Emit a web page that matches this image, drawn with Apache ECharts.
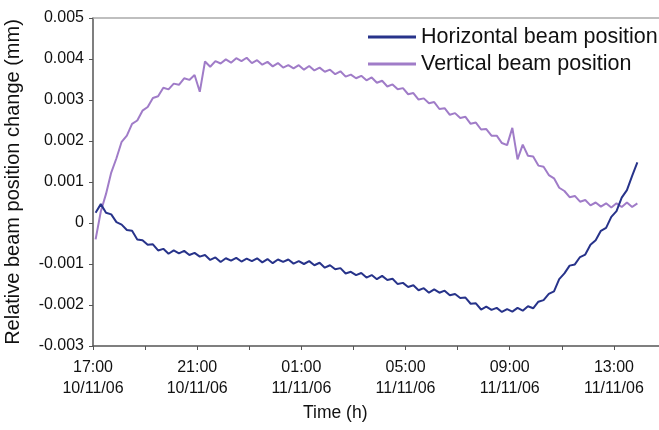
<!DOCTYPE html>
<html>
<head>
<meta charset="utf-8">
<script src="https://cdn.jsdelivr.net/npm/echarts@6/dist/echarts.min.js"></script>
<style>
html,body{margin:0;padding:0;background:#fff;}
#chart{width:659px;height:430px;}
</style>
</head>
<body>
<div id="chart"></div>
<script>
// Time axis: hours after 17:00 on 10/11/06; samples every 0.2 h starting at 0.1 h
var startHour = 0.1;
var stepHours = 0.2;
var xTickLabels = ['17:00\n10/11/06','21:00\n10/11/06','01:00\n11/11/06','05:00\n11/11/06','09:00\n11/11/06','13:00\n11/11/06'];
var yTickLabels = ['-0.003','-0.002','-0.001','0','0.001','0.002','0.003','0.004','0.005'];
var seriesNames = ['Horizontal beam position','Vertical beam position'];
var xAxisTitle = 'Time (h)';
var yAxisTitle = 'Relative beam position change (mm)';

var horizontal = [
 0.00025, 0.00046, 0.00025, 0.00021, 0.00002,-0.00004,-0.00017,-0.00019,-0.00040,-0.00042,
-0.00053,-0.00052,-0.00067,-0.00063,-0.00075,-0.00067,-0.00074,-0.00068,-0.00078,-0.00073,
-0.00082,-0.00078,-0.00090,-0.00084,-0.00095,-0.00086,-0.00092,-0.00085,-0.00094,-0.00087,
-0.00093,-0.00086,-0.00096,-0.00088,-0.00098,-0.00089,-0.00095,-0.00089,-0.00099,-0.00093,
-0.00100,-0.00093,-0.00103,-0.00097,-0.00109,-0.00103,-0.00113,-0.00110,-0.00123,-0.00119,
-0.00127,-0.00122,-0.00133,-0.00127,-0.00137,-0.00129,-0.00139,-0.00136,-0.00149,-0.00146,
-0.00156,-0.00152,-0.00164,-0.00159,-0.00170,-0.00162,-0.00170,-0.00165,-0.00176,-0.00173,
-0.00183,-0.00182,-0.00197,-0.00196,-0.00211,-0.00204,-0.00212,-0.00207,-0.00217,-0.00210,
-0.00216,-0.00207,-0.00214,-0.00203,-0.00208,-0.00192,-0.00188,-0.00173,-0.00167,-0.00137,
-0.00123,-0.00104,-0.00101,-0.00083,-0.00077,-0.00053,-0.00042,-0.00019,-0.00012, 0.00015,
 0.00029, 0.00062, 0.00080, 0.00115, 0.00148
];

var vertical = [
-0.00040, 0.00028, 0.00071, 0.00123, 0.00158, 0.00198, 0.00213, 0.00242, 0.00250, 0.00274,
 0.00283, 0.00305, 0.00309, 0.00330, 0.00326, 0.00340, 0.00337, 0.00353, 0.00349, 0.00361,
 0.00320, 0.00394, 0.00381, 0.00395, 0.00389, 0.00399, 0.00391, 0.00402, 0.00395, 0.00403,
 0.00390, 0.00397, 0.00386, 0.00393, 0.00382, 0.00390, 0.00379, 0.00385, 0.00377, 0.00385,
 0.00374, 0.00383, 0.00372, 0.00379, 0.00369, 0.00374, 0.00363, 0.00370, 0.00357, 0.00362,
 0.00353, 0.00359, 0.00348, 0.00355, 0.00342, 0.00347, 0.00333, 0.00338, 0.00326, 0.00329,
 0.00314, 0.00317, 0.00301, 0.00304, 0.00292, 0.00295, 0.00278, 0.00280, 0.00264, 0.00268,
 0.00256, 0.00259, 0.00242, 0.00245, 0.00228, 0.00229, 0.00213, 0.00213, 0.00195, 0.00190,
 0.00232, 0.00155, 0.00191, 0.00164, 0.00162, 0.00140, 0.00137, 0.00117, 0.00109, 0.00086,
 0.00078, 0.00063, 0.00066, 0.00052, 0.00056, 0.00043, 0.00050, 0.00040, 0.00048, 0.00038,
 0.00048, 0.00039, 0.00050, 0.00039, 0.00048
];

function toPairs(arr){
  return arr.map(function(v,i){ return [startHour + i*stepHours, v]; });
}

var FONT = '"Liberation Sans", Arial, sans-serif';
var chart = echarts.init(document.getElementById('chart'), null, {renderer:'canvas'});
chart.setOption({
  animation:false,
  backgroundColor:'#ffffff',
  textStyle:{fontFamily:FONT},
  title:{
    text:xAxisTitle, left:303, top:404, padding:0,
    textStyle:{fontFamily:FONT, fontSize:17.5, fontWeight:'normal', color:'#111'}
  },
  grid:{left:93, top:18, right:-7, bottom:84, containLabel:false, outerBoundsMode:'none'},
  legend:{
    orient:'vertical', left:368, top:26, padding:0,
    data:seriesNames,
    icon:'rect', itemWidth:48, itemHeight:3, itemGap:5,
    textStyle:{fontFamily:FONT, fontSize:21.5, color:'#111'}
  },
  xAxis:[{
    type:'value', min:0, max:22, interval:2,
    axisLine:{show:true, onZero:false, lineStyle:{color:'#555', width:1.5}},
    axisTick:{show:true, length:4, lineStyle:{color:'#555'}},
    splitLine:{show:false},
    axisLabel:{
      fontFamily:FONT, fontSize:16, color:'#111', lineHeight:21, margin:11,
      showMaxLabel:false,
      formatter:function(v){ return (v % 4 === 0 && v/4 < xTickLabels.length) ? xTickLabels[v/4] : ''; }
    }
  },{
    type:'value', min:0, max:22, position:'top',
    axisLine:{show:true, onZero:false, lineStyle:{color:'#aaa', width:1.5}},
    axisTick:{show:false}, axisLabel:{show:false}, splitLine:{show:false}
  }],
  yAxis:{
    type:'value', min:-0.003, max:0.005, interval:0.001,
    name:yAxisTitle, nameLocation:'middle', nameGap:70,
    nameTextStyle:{fontFamily:FONT, fontSize:20, color:'#111'},
    axisLine:{show:true, lineStyle:{color:'#555', width:1.5}},
    axisTick:{show:true, length:4, lineStyle:{color:'#555'}},
    splitLine:{show:false},
    axisLabel:{
      fontFamily:FONT, fontSize:16, color:'#111', margin:9,
      formatter:function(v){ return yTickLabels[Math.round(v*1000)+3]; }
    }
  },
  series:[{
    name:seriesNames[1], type:'line', xAxisIndex:0, showSymbol:false, symbol:'none',
    data:toPairs(vertical), color:'#a07cc8',
    lineStyle:{width:2, color:'#a07cc8'}, z:2
  },{
    name:seriesNames[0], type:'line', xAxisIndex:0, showSymbol:false, symbol:'none',
    data:toPairs(horizontal), color:'#27338a',
    lineStyle:{width:2, color:'#27338a'}, z:3
  }]
});
</script>
</body>
</html>
